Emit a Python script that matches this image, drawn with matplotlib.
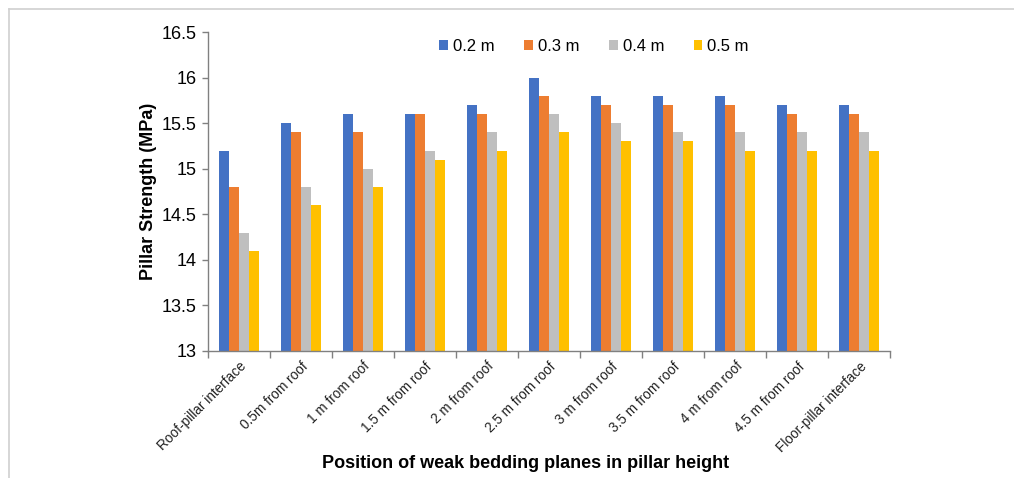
import matplotlib
matplotlib.use("Agg")
import matplotlib.pyplot as plt
import numpy as np
from matplotlib.lines import Line2D

categories = ["Roof-pillar interface", "0.5m from roof", "1 m from roof", "1.5 m from roof",
              "2 m from roof", "2.5 m from roof", "3 m from roof", "3.5 m from roof",
              "4 m from roof", "4.5 m from roof", "Floor-pillar interface"]
series_names = ["0.2 m", "0.3 m", "0.4 m", "0.5 m"]
s02 = [15.2, 15.5, 15.6, 15.6, 15.7, 16.0, 15.8, 15.8, 15.8, 15.7, 15.7]
s03 = [14.8, 15.4, 15.4, 15.6, 15.6, 15.8, 15.7, 15.7, 15.7, 15.6, 15.6]
s04 = [14.3, 14.8, 15.0, 15.2, 15.4, 15.6, 15.5, 15.4, 15.4, 15.4, 15.4]
s05 = [14.1, 14.6, 14.8, 15.1, 15.2, 15.4, 15.3, 15.3, 15.2, 15.2, 15.2]
yticks = [13, 13.5, 14, 14.5, 15, 15.5, 16, 16.5]
ytick_labels = ["13", "13.5", "14", "14.5", "15", "15.5", "16", "16.5"]

colors = ["#4472C4", "#ED7D31", "#BFBFBF", "#FFC000"]

plt.rcParams['font.family'] = ['Liberation Sans', 'DejaVu Sans']

fig = plt.figure(figsize=(10.14, 4.78), dpi=100)
ax = fig.add_axes([0.205, 0.2657, 0.673, 0.6673])

x = np.arange(len(categories))
w = 0.161
for i, (vals, name, c) in enumerate(zip([s02, s03, s04, s05], series_names, colors)):
    ax.bar(x + (i - 1.5) * w, np.array(vals) - 13, bottom=13, width=w, color=c,
           label=name, linewidth=0)

ax.set_ylim(13, 16.5)
ax.set_xlim(-0.5, len(categories) - 0.5)
ax.set_yticks(yticks)
ax.set_yticklabels(ytick_labels, fontsize=13)
ax.set_xticks(x)
ax.set_xticklabels(categories, rotation=45, ha="right", rotation_mode="anchor", fontsize=9.8,
                   color="#222222")
ax.tick_params(axis="x", which="major", length=0, pad=6)
ax.set_xticks(np.arange(-0.5, len(categories), 1), minor=True)
ax.tick_params(axis="x", which="minor", length=5, width=1, color="#808080", direction="out")
ax.tick_params(axis="y", length=4, width=1, color="#808080", direction="out", pad=4)

for s in ["top", "right"]:
    ax.spines[s].set_visible(False)
for s in ["left", "bottom"]:
    ax.spines[s].set_color("#808080")
    ax.spines[s].set_linewidth(1)

ax.set_ylabel("Pillar Strength (MPa)", fontsize=13, fontweight="bold", labelpad=3.5)
fig.text(0.518, 0.031, "Position of weak bedding planes in pillar height", fontsize=13,
         fontweight="bold", ha="center", va="center")

leg = ax.legend(loc="upper center", bbox_to_anchor=(0.566, 1.025), ncol=4, frameon=False,
                fontsize=12, handlelength=0.5, handleheight=0.5, handletextpad=0.3,
                columnspacing=1.8)

fig.add_artist(Line2D([9 / 1014, 1.0], [1 - 9 / 478, 1 - 9 / 478], color="#D0D0D0", lw=1.2))
fig.add_artist(Line2D([9 / 1014, 9 / 1014], [0, 1 - 9 / 478], color="#D0D0D0", lw=1.2))

fig.savefig("out.png", dpi=100)
